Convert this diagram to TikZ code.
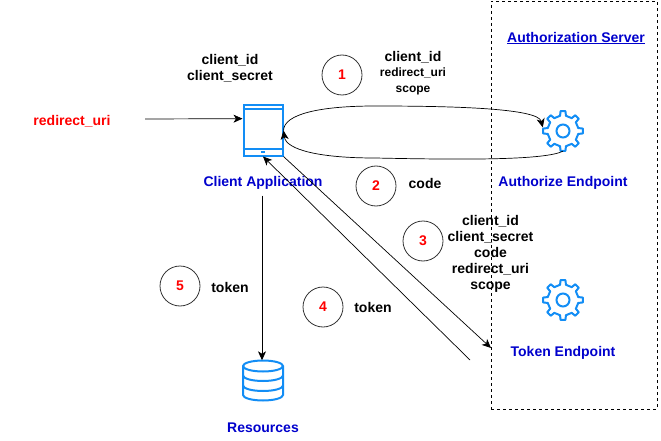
\documentclass[tikz,border=0pt]{standalone}
\usepackage{fontspec}
\setmainfont{Liberation Sans}
\usepackage{tikz}
\usetikzlibrary{arrows.meta,positioning}
\definecolor{IconBlue}{HTML}{128DF5}
\definecolor{LabelBlue}{HTML}{0000CC}
\definecolor{RingGrey}{HTML}{333333}

\begin{document}
\begin{tikzpicture}[
        x=1pt, y=-1pt,
        every node/.style={font=\fontsize{14}{16}\selectfont\bfseries, align=center, inner sep=0pt},
        param/.style={text=black},
        endpoint/.style={text=LabelBlue},
        redlabel/.style={text=red},
        ring/.style={circle, draw=RingGrey, line width=0.8pt, minimum size=40pt, text=red},
        icon/.style={minimum width=40pt, minimum height=40pt},
        device/.style={draw=IconBlue, line width=2pt, minimum width=39pt, minimum height=50pt},
        arrow/.style={-{Stealth[length=9pt,width=8pt,inset=2.5pt]}, draw=black, line width=0.7pt},
        gear/.pic={
            \draw[IconBlue, line width=2pt, line join=round]
                (-11:15.5) \foreach \a in {0,45,...,315} {
                    -- (\a-11:15.5) -- (\a-7:20) -- (\a+7:20) -- (\a+11:15.5)
                } -- cycle;
            \draw[IconBlue, line width=2pt] (0,0) circle (6.5);
        },
        barrel/.pic={
            \draw[IconBlue, line width=2pt]
                (-20,-14.5) arc[x radius=20, y radius=5.5, start angle=180, end angle=-180]
                -- (-20,14.5) arc[x radius=20, y radius=5.5, start angle=180, end angle=0]
                -- (20,-14.5);
            \draw[IconBlue, line width=2pt] (-20,-5) arc[x radius=20, y radius=5.5, start angle=180, end angle=0];
            \draw[IconBlue, line width=2pt] (-20,5) arc[x radius=20, y radius=5.5, start angle=180, end angle=0];
        }
    ]
        \useasboundingbox (0,0) rectangle (661,441);

        % authorization server frame
        \node[draw=black, dashed, line width=0.7pt, minimum width=166pt, minimum height=408pt] (server) at (574,205) {};
        \node[endpoint] (servertitle) at (576,38) {\underline{Authorization Server}};

        % icons
        \node[device] (client) at (263,130.5) {};
        \draw[IconBlue, line width=1.4pt] (client.north west) ++(0,4.5) -- ++(39,0);
        \draw[IconBlue, line width=2pt] (client.south west) ++(0,-8) -- ++(39,0);
        \draw[IconBlue, line width=2pt] (261,151.5) -- (265,151.5);
        \node[icon] (authorize) at (563,131) {};
        \pic at (authorize) {gear};
        \node[icon] (token) at (563,300) {};
        \pic at (token) {gear};
        \node[icon] (resources) at (263,380.5) {};
        \pic at (resources) {barrel};

        % labels
        \node[endpoint] (clientlabel) at (263,183) {Client Application};
        \node[endpoint] (authorizelabel) at (563,183) {Authorize Endpoint};
        \node[endpoint] (tokenlabel) at (563,353) {Token Endpoint};
        \node[endpoint] (resourceslabel) at (263,428) {Resources};
        \node[redlabel] (redirect) at (72,121) {redirect\_uri};
        \node[param] (credentials) at (230,68) {client\_id\\client\_secret};
        \node[param] (request) at (413,73) {client\_id\\[-1.5pt]{\fontsize{12}{14}\selectfont redirect\_uri}\\{\fontsize{12}{14}\selectfont scope}};
        \node[param] (code) at (425,183) {code};
        \node[param] (exchange) at (490.5,254) {client\_id\\client\_secret\\code\\redirect\_uri\\scope};
        \node[param] (tokenb) at (230,287) {token};
        \node[param] (tokena) at (373,307) {token};

        % steps
        \node[ring] (one) at (342,75) {1};
        \node[ring] (two) at (376,186) {2};
        \node[ring] (three) at (423,241) {3};
        \node[ring] (four) at (323,307) {4};
        \node[ring] (five) at (180,286) {5};

        % connectors
        \coordinate (redirectend) at (145,119);
        \coordinate (tokenstart) at (470,360);
        \coordinate (tokenend) at (491,348);
        \draw[arrow] (redirectend) -- (client.150);
        \draw[arrow] (client.east) .. controls (284,114) and (320,106) .. (375,106)
            .. controls (450,106) and (538,108) .. (authorize.170);
        \draw[arrow] (authorize.south) .. controls (545,160) and (470,160) .. (375,158)
            .. controls (320,158) and (286,150) .. (client.east);
        \draw[arrow] (client.south east) -- (tokenend);
        \draw[arrow] (tokenstart) -- (client.south);
        \draw[arrow] (clientlabel.south) ++(-1,6) -- (resources.north -| 262,0);
    \end{tikzpicture}
\end{document}
